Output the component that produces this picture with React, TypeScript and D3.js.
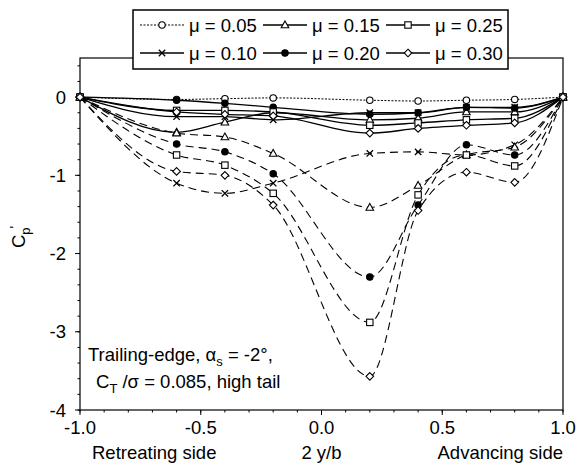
import React from 'react';
import * as d3 from 'd3';

// ---- data ----
const xPositions = [-1.0, -0.6, -0.4, -0.2, 0.2, 0.4, 0.6, 0.8, 1.0];

const muLabels = ['0.05', '0.10', '0.15', '0.20', '0.25', '0.30'];
const muMarkers = ['circle', 'x', 'triangle', 'dot', 'square', 'diamond'];
const legendOrder = [0, 2, 4, 1, 3, 5];

// upper (solid) curves
const upper005 = [0, -0.03, -0.02, -0.01, -0.04, -0.05, -0.04, -0.03, 0];
const upper010 = [0, -0.25, -0.25, -0.29, -0.2, -0.2, -0.13, -0.13, 0];
const upper015 = [0, -0.45, -0.32, -0.2, -0.29, -0.27, -0.19, -0.19, 0];
const upper020 = [0, -0.04, -0.08, -0.13, -0.22, -0.2, -0.13, -0.14, 0];
const upper025 = [0, -0.17, -0.17, -0.19, -0.36, -0.33, -0.29, -0.27, 0];
const upper030 = [0, -0.19, -0.22, -0.24, -0.46, -0.4, -0.36, -0.33, 0];

// lower (dashed) curves
const lower010 = [0, -1.1, -1.23, -1.1, -0.72, -0.7, -0.74, -0.61, 0];
const lower015 = [0, -0.46, -0.51, -0.72, -1.41, -1.13, -0.74, -0.64, 0];
const lower020 = [0, -0.6, -0.7, -0.98, -2.3, -1.38, -0.61, -0.74, 0];
const lower025 = [0, -0.74, -0.87, -1.23, -2.88, -1.25, -0.74, -0.88, 0];
const lower030 = [0, -0.95, -1.0, -1.38, -3.57, -1.45, -0.96, -1.09, 0];

const upperSeries = [upper005, upper010, upper015, upper020, upper025, upper030];
const lowerSeries = [null, lower010, lower015, lower020, lower025, lower030];

const xMajorTicks = [-1.0, -0.5, 0.0, 0.5, 1.0];
const yMajorTicks = [0, -1, -2, -3, -4];

const FONT = '"Liberation Sans", Arial, Helvetica, sans-serif';
const FS = 18.5;

function Marker({ kind, x, y }: { kind: string; x: number; y: number }) {
  const s = 3.2;
  const common = { stroke: '#000', strokeWidth: 1.1 };
  switch (kind) {
    case 'circle':
      return <circle cx={x} cy={y} r={s} fill="#fff" {...common} />;
    case 'dot':
      return <circle cx={x} cy={y} r={s} fill="#000" {...common} />;
    case 'square':
      return <rect x={x - s} y={y - s} width={2 * s} height={2 * s} fill="#fff" {...common} />;
    case 'triangle':
      return (
        <path d={`M${x},${y - s - 0.8}L${x + s + 0.6},${y + s - 0.4}L${x - s - 0.6},${y + s - 0.4}Z`} fill="#fff" {...common} />
      );
    case 'diamond':
      return <path d={`M${x},${y - s - 0.6}L${x + s + 0.6},${y}L${x},${y + s + 0.6}L${x - s - 0.6},${y}Z`} fill="#fff" {...common} />;
    case 'x':
      return (
        <path d={`M${x - s},${y - s}L${x + s},${y + s}M${x - s},${y + s}L${x + s},${y - s}`} fill="none" stroke="#000" strokeWidth={1.3} />
      );
    default:
      return null;
  }
}

export default function App() {
  const W = 577;
  const H = 466;
  const x = d3.scaleLinear().domain([-1, 1]).range([80, 563]);
  const y = d3.scaleLinear().domain([-4, 0.5]).range([410, 58]);

  const smooth = d3
    .line<number>()
    .x((_, i) => x(xPositions[i]))
    .y((d) => y(d))
    .curve(d3.curveMonotoneX);

  const xMinor = d3.range(-10, 11).map((v) => v / 10);
  const yMinor = d3.range(-20, 3).map((v) => v / 5);

  const legendX0 = 140;
  const colW = 123;
  const rowYs = [25, 53];

  return (
    <svg width={W} height={H} style={{ position: 'absolute', left: 0, top: 0, background: '#fff' }} fontFamily={FONT}>
      <rect x={0} y={0} width={W} height={H} fill="#fff" />
      {/* frame */}
      <rect x={x(-1)} y={y(0.5)} width={x(1) - x(-1)} height={y(-4) - y(0.5)} fill="none" stroke="#000" strokeWidth={1.2} />

      {/* x ticks */}
      {xMinor.map((t, i) => (
        <line key={'xm' + i} x1={x(t)} x2={x(t)} y1={y(-4)} y2={y(-4) + 2.5} stroke="#000" strokeWidth={1} />
      ))}
      {xMajorTicks.map((t, i) => (
        <g key={'xt' + i}>
          <line x1={x(t)} x2={x(t)} y1={y(-4)} y2={y(-4) + 5} stroke="#000" strokeWidth={1} />
          <text x={x(t)} y={y(-4) + 24} textAnchor="middle" fontSize={FS}>
            {t.toFixed(1)}
          </text>
        </g>
      ))}
      {/* y ticks */}
      {yMinor.map((t, i) => (
        <line key={'ym' + i} x1={x(-1) - 2.5} x2={x(-1)} y1={y(t)} y2={y(t)} stroke="#000" strokeWidth={1} />
      ))}
      {yMajorTicks.map((t, i) => (
        <g key={'yt' + i}>
          <line x1={x(-1) - 5} x2={x(-1)} y1={y(t)} y2={y(t)} stroke="#000" strokeWidth={1} />
          <text x={x(-1) - 14} y={y(t) + 6.5} textAnchor="end" fontSize={FS}>
            {t === 0 ? '0' : '-' + Math.abs(t)}
          </text>
        </g>
      ))}

      {/* axis titles */}
      <text x={x(-1) + 12} y={459} fontSize={FS}>Retreating side</text>
      <text x={x(0)} y={459} fontSize={FS} textAnchor="middle">2 y/b</text>
      <text x={x(1)} y={459} fontSize={FS} textAnchor="end">Advancing side</text>
      <text transform="translate(25,248) rotate(-90)" fontSize={FS}>
        C
        <tspan fontSize={13} dy={5}>p</tspan>
        <tspan fontSize={14} dy={-10} dx={-1}>'</tspan>
      </text>

      {/* annotation */}
      <text x={88} y={361} fontSize={FS}>
        Trailing-edge, α<tspan fontSize={13} dy={5}>s</tspan>
        <tspan dy={-5}> = -2°,</tspan>
      </text>
      <text x={96} y={388} fontSize={FS}>
        C<tspan fontSize={13} dy={5}>T</tspan>
        <tspan dy={-5}> /σ = 0.085, high tail</tspan>
      </text>

      {/* upper solid curves */}
      {upperSeries.map((s, k) => (
        <g key={'u' + k}>
          <path
            d={smooth(s) || ''}
            fill="none"
            stroke="#000"
            strokeWidth={k === 0 ? 1 : 1.3}
            strokeDasharray={k === 0 ? '2,1.5' : undefined}
          />
          {s.map((v, i) => (
            <Marker key={i} kind={muMarkers[k]} x={x(xPositions[i])} y={y(v)} />
          ))}
        </g>
      ))}
      {/* lower dashed curves */}
      {lowerSeries.map((s, k) =>
        s ? (
          <g key={'l' + k}>
            <path d={smooth(s) || ''} fill="none" stroke="#000" strokeWidth={1.1} strokeDasharray="8,5" />
            {s.map((v, i) => (
              <Marker key={i} kind={muMarkers[k]} x={x(xPositions[i])} y={y(v)} />
            ))}
          </g>
        ) : null
      )}

      {/* legend */}
      <rect x={133} y={10} width={375} height={59} fill="#fff" stroke="#000" strokeWidth={1.5} />
      {legendOrder.map((k, j) => {
        const col = j % 3;
        const row = Math.floor(j / 3);
        const lx = legendX0 + col * colW;
        const ly = rowYs[row];
        return (
          <g key={'lg' + k}>
            <line
              x1={lx}
              x2={lx + 44}
              y1={ly}
              y2={ly}
              stroke="#000"
              strokeWidth={k === 0 ? 1 : 1.3}
              strokeDasharray={k === 0 ? '2,1.5' : undefined}
            />
            <Marker kind={muMarkers[k]} x={lx + 22} y={ly} />
            <text x={lx + 49} y={ly + 6.5} fontSize={FS}>
              μ = {muLabels[k]}
            </text>
          </g>
        );
      })}
    </svg>
  );
}
